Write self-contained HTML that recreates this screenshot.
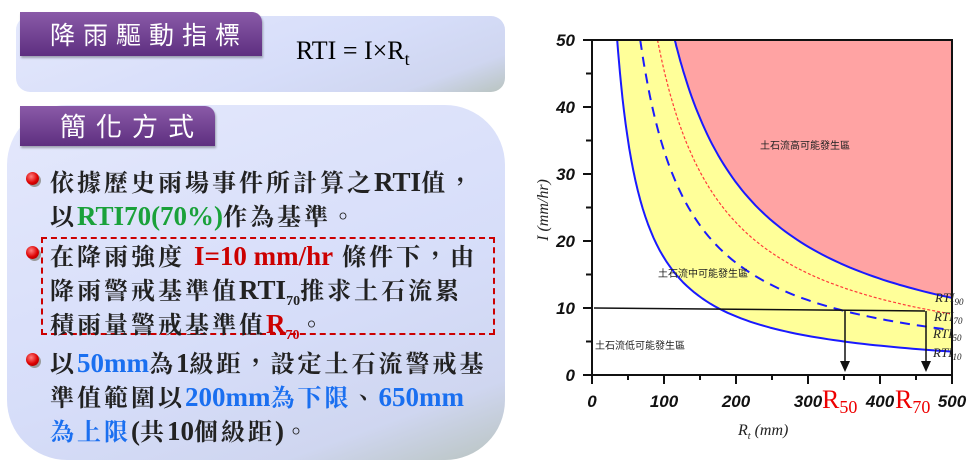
<!DOCTYPE html>
<html><head><meta charset="utf-8"><style>
body{margin:0;width:976px;height:468px;background:#fff;position:relative;overflow:hidden;font-family:"Liberation Serif","Noto Serif CJK SC","Noto Sans CJK TC",serif}
.box{position:absolute;background:linear-gradient(160deg,#e4e8fc 0%,#d6ddf9 60%,#cfd6f0 85%,#b9c4c0 100%)}
.tab{position:absolute;background:linear-gradient(180deg,#8a5aa8,#5e2f80);color:#fff;font-family:"Noto Sans CJK TC",sans-serif;border-radius:0 10px 0 0;box-shadow:1px 2px 2px rgba(0,0,0,.3)}
.t{position:absolute;left:50px;font-size:24px;font-weight:bold;color:#222;white-space:nowrap;font-family:"Liberation Serif","Noto Serif CJK TC","Noto Sans CJK TC",serif;letter-spacing:3px}
.b{position:absolute;left:26px;width:13px;height:13px;border-radius:50%;background:radial-gradient(circle at 40% 35%,#ff8080,#d00 55%,#800);box-shadow:2px 2px 0 #999}
.g{color:#1aa13a}.r{color:#c00}.bl{color:#1a6ff0}
.L{font-size:27px;letter-spacing:0}
sub{letter-spacing:0;font-size:14px}
</style></head><body>
<div class="box" style="left:16px;top:16px;width:489px;height:76px;border-radius:14px"></div>
<div class="tab" style="left:20px;top:12px;width:242px;height:44px;font-size:25px;line-height:44px;padding-left:30px;box-sizing:border-box;letter-spacing:8px">降雨驅動指標</div>
<div style="position:absolute;left:296px;top:36px;font-size:26px;font-family:'Liberation Serif',serif">RTI = I×R<sub style="font-size:18px">t</sub></div>
<div class="box" style="left:7px;top:105px;width:498px;height:355px;border-radius:60px"></div>
<div class="tab" style="left:20px;top:106px;width:195px;height:40px;font-size:26px;line-height:40px;padding-left:40px;box-sizing:border-box;letter-spacing:10px">簡化方式</div>
<div class="b" style="top:172px"></div>
<div class="t" style="top:163px">依據歷史雨場事件所計算之<span class="L">RTI</span>值，</div>
<div class="t" style="top:197px">以<span class="g L">RTI70(70%)</span>作為基準。</div>
<div style="position:absolute;left:41px;top:237px;width:450px;height:94px;border:2px dashed #c00"></div>
<div class="b" style="top:246px"></div>
<div class="t" style="top:237px">在降雨強度 <span class="r L">I=10 mm/hr</span> 條件下，由</div>
<div class="t" style="top:271px">降雨警戒基準值<span class="L">RTI</span><sub>70</sub>推求土石流累</div>
<div class="t" style="top:305px">積雨量警戒基準值<span class="r"><span class="L">R</span><sub>70</sub></span>。</div>
<div class="b" style="top:353px"></div>
<div class="t" style="top:344px">以<span class="bl L">50mm</span>為<span class="L">1</span>級距，設定土石流警戒基</div>
<div class="t" style="top:378px">準值範圍以<span class="bl"><span class="L">200mm</span>為下限</span>、<span class="bl L">650mm</span></div>
<div class="t" style="top:412px"><span class="bl">為上限</span><span class="L">(</span>共<span class="L">10</span>個級距<span class="L">)</span>。</div>

<svg style="position:absolute;left:0;top:0" width="976" height="468">
<path id="pink" fill="#ffa3a3"/>
<path id="yel" fill="#ffff99"/>
<g fill="none" stroke-linejoin="round">
<path id="c10" stroke="#1a1aff" stroke-width="2"/>
<path id="c50" stroke="#1a1aff" stroke-width="2" stroke-dasharray="10,7"/>
<path id="c70" stroke="#ff3b3b" stroke-width="1.2" stroke-dasharray="3,2"/>
<path id="c90" stroke="#1a1aff" stroke-width="2"/>
</g>
<g stroke="#111" stroke-width="2" fill="none">
<path d="M592,40 V375 H952 V40 H592"/>
<path d="M583,40H592M583,107H592M583,174H592M583,241H592M583,308H592M583,375H592M586,73.5H592M586,140.5H592M586,207.5H592M586,274.5H592M586,341.5H592"/>
<path d="M592,375v9M664,375v9M736,375v9M808,375v9M880,375v9M952,375v9M628,375v5M700,375v5M772,375v5M844,375v5M916,375v5"/>
</g>
<g stroke="#111" stroke-width="1.5">
<line x1="594" y1="308" x2="925" y2="311"/>
<line x1="845" y1="311" x2="845" y2="363"/><line x1="926" y1="311" x2="926" y2="363"/>
</g>
<polygon points="840,361 850,361 845,372" fill="#111"/><polygon points="921,361 931,361 926,372" fill="#111"/>
<g font-family="Liberation Sans,sans-serif" font-weight="bold" font-style="italic" font-size="17" fill="#111" text-anchor="end">
<text x="575" y="46">50</text><text x="575" y="113">40</text><text x="575" y="180">30</text><text x="575" y="247">20</text><text x="575" y="314">10</text><text x="575" y="381">0</text>
</g>
<g font-family="Liberation Sans,sans-serif" font-weight="bold" font-style="italic" font-size="17" fill="#111" text-anchor="middle">
<text x="592" y="407">0</text><text x="664" y="407">100</text><text x="736" y="407">200</text><text x="808" y="407">300</text><text x="880" y="407">400</text><text x="952" y="407">500</text>
</g>
<g font-family="Liberation Serif,serif" fill="#e00" font-size="26"><text x="822" y="408">R<tspan font-size="18" dy="5">50</tspan></text><text x="895" y="408">R<tspan font-size="18" dy="5">70</tspan></text></g>
<text x="738" y="435" font-family="Liberation Serif,serif" font-style="italic" font-size="16" fill="#222">R<tspan font-size="10" dy="4">t</tspan><tspan dy="-4"> (mm)</tspan></text>
<text transform="translate(548,210) rotate(-90)" text-anchor="middle" font-family="Liberation Serif,serif" font-style="italic" font-size="16" fill="#222">I (mm/hr)</text>
<g font-family="Noto Sans CJK TC,sans-serif" font-size="10" fill="#222">
<text x="760" y="149">土石流高可能發生區</text><text x="658" y="277">土石流中可能發生區</text><text x="595" y="349">土石流低可能發生區</text>
</g>
<g font-family="Liberation Serif,serif" font-style="italic" font-size="13" fill="#222">
<text x="935" y="302">RTI<tspan font-size="9" dy="3">90</tspan></text>
<text x="934" y="321">RTI<tspan font-size="9" dy="3">70</tspan></text>
<text x="933" y="338">RTI<tspan font-size="9" dy="3">50</tspan></text>
<text x="933" y="357">RTI<tspan font-size="9" dy="3">10</tspan></text>
</g>
</svg>
<script>
function pts(C){var a=[];var r0=C/50;for(var i=0;i<=80;i++){var R=r0+(500-r0)*Math.pow(i/80,1.6);a.push([592+0.72*R,375-6.7*C/R]);}return a;}
function d(a){return 'M'+a.map(function(p){return p[0].toFixed(1)+','+p[1].toFixed(1)}).join('L');}
var p10=pts(1750),p50=pts(3350),p70=pts(4550),p90=pts(5750);
document.getElementById('c10').setAttribute('d',d(p10));
document.getElementById('c50').setAttribute('d',d(p50));
document.getElementById('c70').setAttribute('d',d(p70));
document.getElementById('c90').setAttribute('d',d(p90));
document.getElementById('pink').setAttribute('d',d(p90)+'L952,40Z');
document.getElementById('yel').setAttribute('d',d(p10)+'L'+d(p90.slice().reverse()).slice(1)+'Z');
</script>
</body></html>
